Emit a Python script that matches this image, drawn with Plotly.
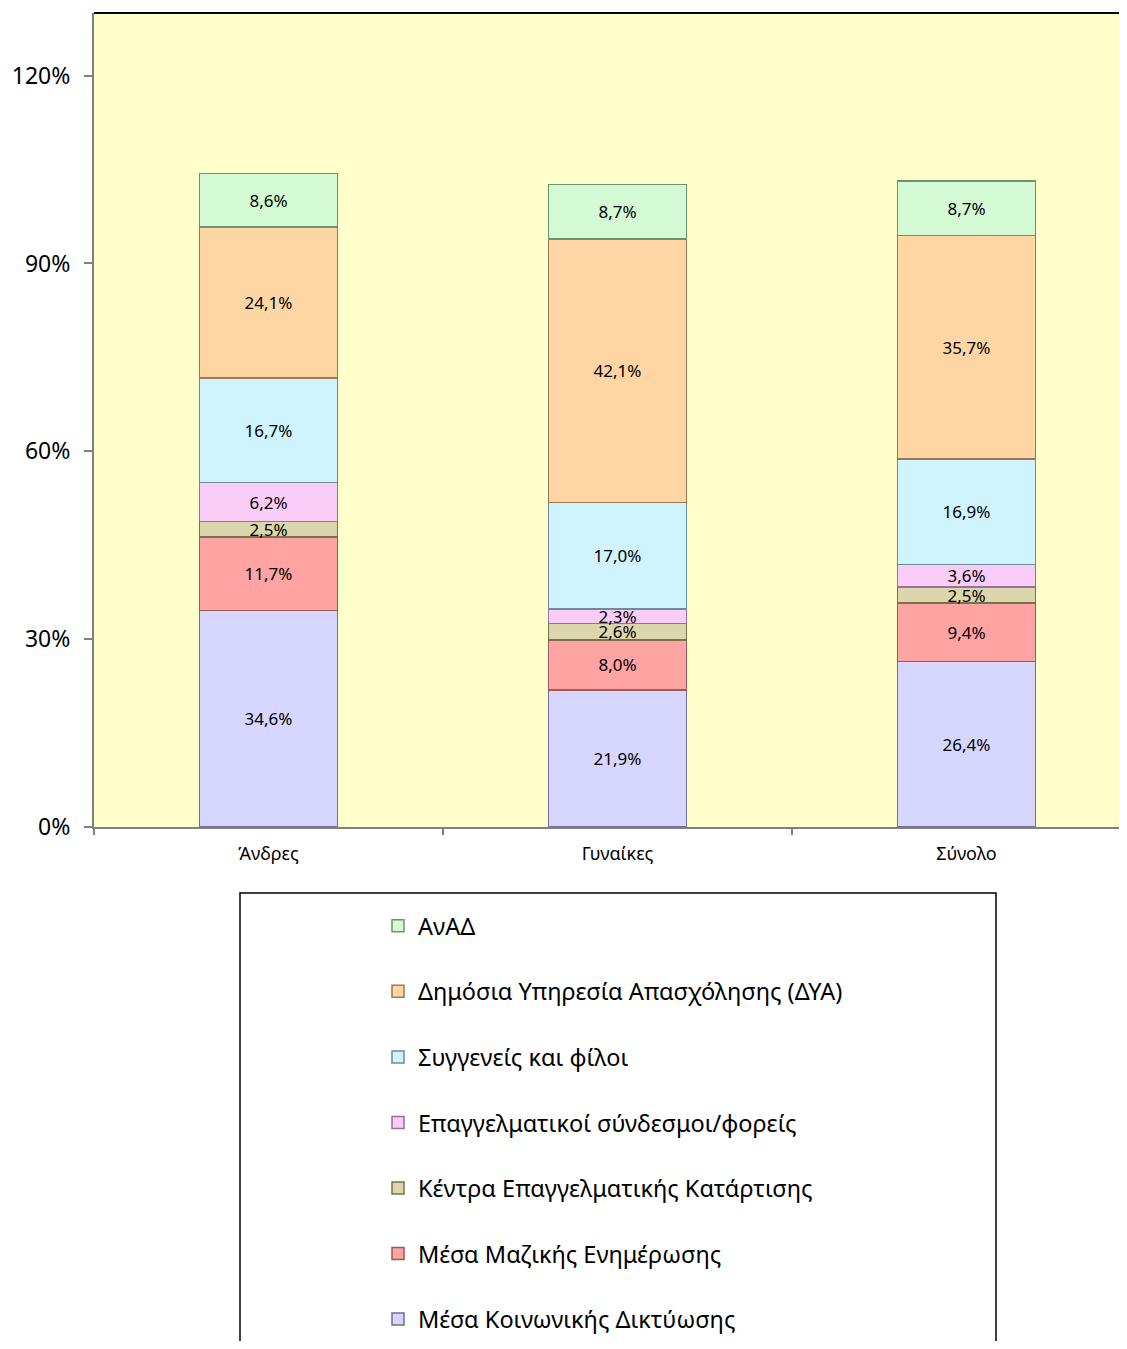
import plotly.graph_objects as go

categories = ["Άνδρες", "Γυναίκες", "Σύνολο"]

series_names = [
    "Μέσα Κοινωνικής Δικτύωσης",
    "Μέσα Μαζικής Ενημέρωσης",
    "Κέντρα Επαγγελματικής Κατάρτισης",
    "Επαγγελματικοί σύνδεσμοι/φορείς",
    "Συγγενείς και φίλοι",
    "Δημόσια Υπηρεσία Απασχόλησης (ΔΥΑ)",
    "ΑνΑΔ",
]

social_media = [34.6, 21.9, 26.4]
mass_media = [11.7, 8.0, 9.4]
training_centers = [2.5, 2.6, 2.5]
prof_assoc = [6.2, 2.3, 3.6]
relatives = [16.7, 17.0, 16.9]
dya = [24.1, 42.1, 35.7]
anad = [8.6, 8.7, 8.7]

series_values = [social_media, mass_media, training_centers, prof_assoc, relatives, dya, anad]

fill_colors = ["#D6D6FF", "#FFA3A3", "#DCD6AC", "#FACCF8", "#CFF3FF", "#FFD6A3", "#D4FAD4"]
edge_colors = ["#6E6E9A", "#9A5A5A", "#77714C", "#98709A", "#6E8C98", "#9A7850", "#6E926E"]

y_tickvals = [0, 0.3, 0.6, 0.9, 1.2]
y_ticktext = ["0%", "30%", "60%", "90%", "120%"]

FONT = "Noto Sans"

fig = go.Figure()
n = len(series_names)
for i, (name, vals) in enumerate(zip(series_names, series_values)):
    fig.add_trace(go.Bar(
        x=categories,
        y=[v / 100 for v in vals],
        name=name,
        legendgroup=f"g{i}",
        legendrank=n - i,
        marker=dict(color=fill_colors[i], line=dict(color=edge_colors[i], width=1.5)),
        text=[f"{v:.1f}%".replace(".", ",") for v in vals],
        textposition="inside",
        insidetextanchor="middle",
        textangle=0,
        constraintext="none",
        textfont=dict(family=FONT, size=17, color="black"),
        width=0.395,
        hoverinfo="skip",
    ))

# page body has an 8px margin; reference pixel coords are converted accordingly
OFF = 8
W, H = 1127 - 2 * OFF, 1349 - 2 * OFF
L, R, T = 94 - OFF, 0, 13 - OFF
B = H - (827 - OFF)
pw = W - L - R
ph = H - T - B

def px_x(p):
    return (p - OFF - L) / pw

def px_y(p):
    return (H - B - (p - OFF)) / ph

x_right = -0.5 + pw / 349.0

fig.update_layout(
    width=W, height=H,
    barmode="stack",
    margin=dict(l=L, r=R, t=T, b=B, pad=0, autoexpand=False),
    paper_bgcolor="white",
    plot_bgcolor="#FFFFCC",
    showlegend=True,
    legend=dict(
        traceorder="grouped",
        x=px_x(378), xanchor="left",
        y=px_y(904), yanchor="top",
        font=dict(family=FONT, size=23.5, color="black"),
        bgcolor="rgba(0,0,0,0)",
        borderwidth=0,
        tracegroupgap=32,
        itemwidth=30,
    ),
    xaxis=dict(
        range=[-0.5, x_right],
        showline=True, linecolor="#808080", linewidth=2,
        ticks="outside", tickson="boundaries", ticklen=6, tickcolor="#808080", tickwidth=1.5,
        tickfont=dict(family=FONT, size=18, color="black"),
        ticklabelstandoff=9,
        showgrid=False, zeroline=False,
        fixedrange=True,
    ),
    yaxis=dict(
        range=[0, 1.3],
        tickvals=y_tickvals, ticktext=y_ticktext,
        showline=True, linecolor="#808080", linewidth=2,
        ticks="outside", ticklen=8, tickcolor="#808080", tickwidth=1.5,
        tickfont=dict(family=FONT, size=23, color="black"),
        ticklabelstandoff=9,
        showgrid=False, zeroline=False,
    ),
    shapes=[
        dict(type="line", xref="paper", yref="paper", x0=0, x1=1, y0=1, y1=1,
             line=dict(color="black", width=2)),
        dict(type="rect", xref="paper", yref="paper",
             x0=px_x(240), x1=px_x(996), y0=px_y(893), y1=px_y(1365),
             line=dict(color="black", width=1.5), fillcolor="rgba(0,0,0,0)"),
    ],
)

fig.write_html("out.html")
